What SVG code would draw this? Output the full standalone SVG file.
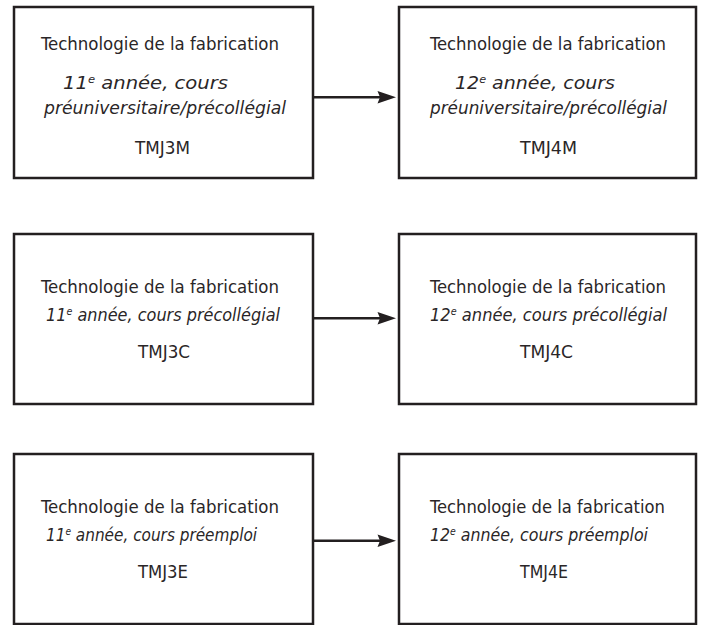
<svg xmlns="http://www.w3.org/2000/svg" width="704" height="625" viewBox="0 0 704 625">
<style>
.box{fill:#fff;stroke:#231f20;stroke-width:2.5}
.t{font-family:"DejaVu Sans Condensed","DejaVu Sans",sans-serif;font-stretch:condensed;font-size:17px;fill:#2a2627}
.i{font-style:italic}
.sup{font-size:10px}
.conn line{stroke:#231f20;stroke-width:2.5}
.conn polygon{fill:#231f20}
</style>
<rect width="704" height="625" fill="#fff"/>
<g id="n1">
<rect class="box" x="14" y="7" width="299" height="171"/>
<text class="t" x="41" y="50" textLength="238" lengthAdjust="spacingAndGlyphs">Technologie de la fabrication</text>
<text class="t i" x="63" y="89" textLength="165" lengthAdjust="spacingAndGlyphs">11<tspan class="sup" dy="-6">e</tspan><tspan dy="6"> année, cours</tspan></text>
<text class="t i" x="44" y="114" textLength="242" lengthAdjust="spacingAndGlyphs">préuniversitaire/précollégial</text>
<text class="t" x="135" y="154" textLength="55" lengthAdjust="spacingAndGlyphs">TMJ3M</text>
</g>
<g id="n2">
<rect class="box" x="399" y="7" width="297" height="171"/>
<text class="t" x="430" y="50" textLength="236" lengthAdjust="spacingAndGlyphs">Technologie de la fabrication</text>
<text class="t i" x="455" y="89" textLength="160" lengthAdjust="spacingAndGlyphs">12<tspan class="sup" dy="-6">e</tspan><tspan dy="6"> année, cours</tspan></text>
<text class="t i" x="430" y="114" textLength="237" lengthAdjust="spacingAndGlyphs">préuniversitaire/précollégial</text>
<text class="t" x="520" y="154" textLength="57" lengthAdjust="spacingAndGlyphs">TMJ4M</text>
</g>
<g id="n3">
<rect class="box" x="14" y="234" width="299" height="170"/>
<text class="t" x="41" y="293" textLength="238" lengthAdjust="spacingAndGlyphs">Technologie de la fabrication</text>
<text class="t i" x="46" y="321" textLength="234" lengthAdjust="spacingAndGlyphs">11<tspan class="sup" dy="-6">e</tspan><tspan dy="6"> année, cours précollégial</tspan></text>
<text class="t" x="138" y="358" textLength="52" lengthAdjust="spacingAndGlyphs">TMJ3C</text>
</g>
<g id="n4">
<rect class="box" x="399" y="234" width="297" height="170"/>
<text class="t" x="430" y="293" textLength="236" lengthAdjust="spacingAndGlyphs">Technologie de la fabrication</text>
<text class="t i" x="430" y="321" textLength="237" lengthAdjust="spacingAndGlyphs">12<tspan class="sup" dy="-6">e</tspan><tspan dy="6"> année, cours précollégial</tspan></text>
<text class="t" x="520" y="358" textLength="53" lengthAdjust="spacingAndGlyphs">TMJ4C</text>
</g>
<g id="n5">
<rect class="box" x="14" y="454" width="299" height="170"/>
<text class="t" x="41" y="513" textLength="238" lengthAdjust="spacingAndGlyphs">Technologie de la fabrication</text>
<text class="t i" x="46" y="541" textLength="211" lengthAdjust="spacingAndGlyphs">11<tspan class="sup" dy="-6">e</tspan><tspan dy="6"> année, cours préemploi</tspan></text>
<text class="t" x="138" y="578" textLength="50" lengthAdjust="spacingAndGlyphs">TMJ3E</text>
</g>
<g id="n6">
<rect class="box" x="399" y="454" width="297" height="170"/>
<text class="t" x="430" y="513" textLength="235" lengthAdjust="spacingAndGlyphs">Technologie de la fabrication</text>
<text class="t i" x="430" y="541" textLength="218" lengthAdjust="spacingAndGlyphs">12<tspan class="sup" dy="-6">e</tspan><tspan dy="6"> année, cours préemploi</tspan></text>
<text class="t" x="520" y="578" textLength="48" lengthAdjust="spacingAndGlyphs">TMJ4E</text>
</g>
<g id="connectors" class="conn">
<line x1="313" y1="97.3" x2="382" y2="97.3"/>
<polygon points="396,97.3 377.5,91 380,97.3 377.5,103.6"/>
<line x1="313" y1="318.3" x2="382" y2="318.3"/>
<polygon points="396,318.3 377.5,312 380,318.3 377.5,324.6"/>
<line x1="313" y1="540.7" x2="382" y2="540.7"/>
<polygon points="396,540.7 377.5,534.4 380,540.7 377.5,547"/>
</g>
</svg>
